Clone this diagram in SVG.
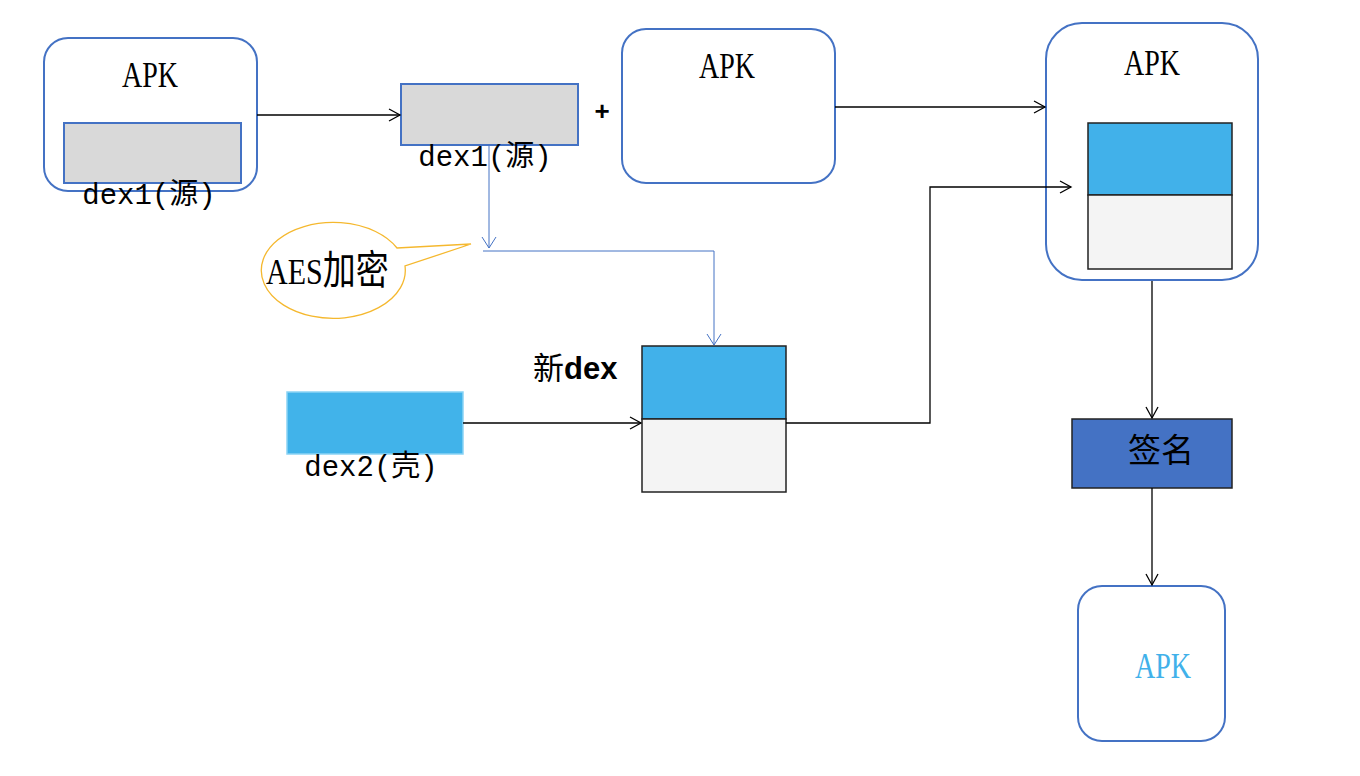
<svg xmlns="http://www.w3.org/2000/svg" width="1360" height="776" viewBox="0 0 1360 776">
<style>
.apk{fill:#fff;stroke:#4472C4;stroke-width:2}
.t{font-family:"Liberation Serif","Noto Sans CJK SC",serif;fill:#000}
.m{font-family:"Liberation Mono","Noto Sans CJK SC",monospace;fill:#000}
.s{font-family:"Liberation Sans","Noto Sans CJK SC",sans-serif;fill:#000}
.blue{fill:#41B1EA;stroke:#222;stroke-width:1.5}
.gray{fill:#F4F4F4;stroke:#222;stroke-width:1.5}
.c{fill:none;stroke:#000;stroke-width:1.3}
.cb{fill:none;stroke:#4472C4;stroke-width:1}
</style>
<defs>
<marker id="a" markerWidth="14" markerHeight="14" refX="12" refY="7" orient="auto" markerUnits="userSpaceOnUse"><path d="M1,1 L12,7 L1,13" fill="none" stroke="#000" stroke-width="1.3"/></marker>
<marker id="ab" markerWidth="14" markerHeight="16" refX="12" refY="8" orient="auto" markerUnits="userSpaceOnUse"><path d="M1,1 L12,8 L1,15" fill="none" stroke="#4472C4" stroke-width="1"/></marker>
</defs>
<g id="apk1">
<rect class="apk" x="44" y="38" width="213" height="153" rx="24"/>
<text class="t" font-size="28" text-anchor="middle" transform="translate(150,87) scale(1,1.3)">APK</text>
<rect x="64" y="123" width="177" height="60" fill="#D9D9D9" stroke="#4472C4" stroke-width="2"/>
<text class="m" x="149" y="204" font-size="29" text-anchor="middle">dex1(源)</text>
</g>
<g id="dex1">
<rect x="401" y="84" width="177" height="61" fill="#D9D9D9" stroke="#4472C4" stroke-width="2"/>
<text class="m" x="485" y="166" font-size="29" text-anchor="middle">dex1(源)</text>
</g>
<g id="plus"><text class="s" x="602" y="120" font-size="26" font-weight="bold" text-anchor="middle">+</text></g>
<g id="apk2">
<rect class="apk" x="622" y="29" width="213" height="154" rx="24"/>
<text class="t" font-size="28" text-anchor="middle" transform="translate(727,78) scale(1,1.3)">APK</text>
</g>
<g id="apk3">
<rect class="apk" x="1046" y="23" width="212" height="257" rx="36"/>
<text class="t" font-size="28" text-anchor="middle" transform="translate(1152,75) scale(1,1.3)">APK</text>
<rect class="blue" x="1088" y="123" width="144" height="72"/>
<rect class="gray" x="1088" y="195" width="144" height="74"/>
</g>
<g id="aes">
<path d="M397,248 A72,48 0 1 0 405,266 L471,244 Z" fill="#fff" stroke="#F5B82E" stroke-width="1.3"/>
<text class="t" font-size="30" transform="translate(266,284) scale(1,1.2)">AES<tspan font-size="33">加密</tspan></text>
</g>
<g id="newdex">
<text class="s" x="533" y="379" font-size="31">新<tspan font-weight="bold">dex</tspan></text>
<rect class="blue" x="642" y="346" width="144" height="73"/>
<rect class="gray" x="642" y="419" width="144" height="73"/>
</g>
<g id="dex2">
<rect x="287" y="392" width="176" height="62" fill="#41B3EA" stroke="#8AD3F5" stroke-width="1.5"/>
<text class="m" x="371" y="476" font-size="29" text-anchor="middle">dex2(壳)</text>
</g>
<g id="sign">
<rect x="1072" y="419" width="160" height="69" fill="#4472C4" stroke="#222" stroke-width="1.5"/>
<text class="t" x="1161" y="462" font-size="33" text-anchor="middle">签名</text>
</g>
<g id="apk4">
<rect class="apk" x="1078" y="586" width="147" height="155" rx="24"/>
<text class="t" font-size="28" text-anchor="middle" style="fill:#41B1EA" transform="translate(1163,678) scale(1,1.3)">APK</text>
</g>
<g id="connectors">
<line class="c" x1="257" y1="115" x2="400" y2="115" marker-end="url(#a)"/>
<line class="c" x1="835" y1="107" x2="1045" y2="107" marker-end="url(#a)"/>
<polyline class="c" points="786,423 930,423 930,187 1071,187" marker-end="url(#a)"/>
<line class="c" x1="463" y1="423" x2="641" y2="423" marker-end="url(#a)"/>
<line class="c" x1="1152" y1="281" x2="1152" y2="418" marker-end="url(#a)"/>
<line class="c" x1="1152" y1="488" x2="1152" y2="585" marker-end="url(#a)"/>
<line class="cb" x1="489" y1="146" x2="489" y2="248" marker-end="url(#ab)"/>
<polyline class="cb" points="483,251 714,251 714,345" marker-end="url(#ab)"/>
</g>
</svg>
